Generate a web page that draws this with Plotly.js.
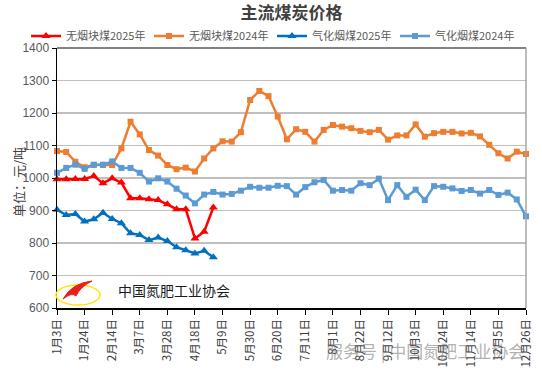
<!DOCTYPE html>
<html><head><meta charset="utf-8">
<script src="https://cdn.plot.ly/plotly-3.0.1.min.js"></script>
<style>html,body{margin:0;padding:0;background:#fff}#c{width:542px;height:372px}</style>
</head><body><div id="c"></div>
<script>
const weeks = ["1月3日","1月10日","1月17日","1月24日","1月31日","2月7日","2月14日","2月21日","2月28日","3月7日","3月14日","3月21日","3月28日","4月4日","4月11日","4月18日","4月25日","5月2日","5月9日","5月16日","5月23日","5月30日","6月6日","6月13日","6月20日","6月27日","7月4日","7月11日","7月18日","7月25日","8月1日","8月8日","8月15日","8月22日","8月29日","9月5日","9月12日","9月19日","9月26日","10月3日","10月10日","10月17日","10月24日","10月31日","11月7日","11月14日","11月21日","11月28日","12月5日","12月12日","12月19日","12月26日"];
const tickLabels = ["1月3日","1月24日","2月14日","3月7日","3月28日","4月18日","5月9日","5月30日","6月20日","7月11日","8月1日","8月22日","9月12日","10月3日","10月24日","11月14日","12月5日","12月26日"];
const anthracite2025 = [996,996,997,997,1006,984,999,986,938,938,935,932,919,904,904,814,835,909];
const anthracite2024 = [1083,1080,1050,1033,1040,1040,1040,1091,1173,1134,1086,1069,1040,1027,1032,1020,1060,1091,1113,1112,1141,1240,1268,1252,1189,1119,1150,1142,1112,1148,1163,1158,1153,1145,1141,1148,1118,1131,1131,1165,1127,1138,1142,1142,1137,1139,1128,1102,1076,1060,1081,1074];
const gasCoal2025 = [902,886,889,866,873,893,874,861,830,825,809,817,806,787,778,768,776,756];
const gasCoal2024 = [1016,1031,1041,1028,1041,1041,1051,1031,1031,1016,989,999,989,967,946,922,949,957,949,951,961,973,970,970,976,975,949,972,987,994,961,963,961,984,978,998,932,978,942,964,932,975,973,968,960,963,952,963,948,955,934,882];
const names = ["无烟块煤2025年","无烟块煤2024年","气化烟煤2025年","气化烟煤2024年"];

function tr(name, vals, color, sym, size, lw){
  const t = {type:'scatter', mode:'lines+markers', name:name, x:weeks.slice(0, vals.length), y:vals,
    line:{color:color, width:2.5}, marker:{color:color, symbol:sym, size:size}, cliponaxis:false};
  if (lw) t.legendwidth = lw;
  return t;
}
const data = [
  tr(names[0], anthracite2025, '#FF0000', 'triangle-up', 8),
  tr(names[1], anthracite2024, '#ED7D31', 'square', 6),
  tr(names[2], gasCoal2025, '#0070C0', 'triangle-up', 8),
  tr(names[3], gasCoal2024, '#5B9BD5', 'square', 6, 92)
];
const P = (px)=> (px-57)/469, Q = (py)=> (308-py)/260;
const layout = {
  width:542, height:372,
  margin:{l:57, r:16, t:48, b:64, autoexpand:false},
  paper_bgcolor:'#fff', plot_bgcolor:'#fff',
  font:{family:'"Liberation Sans","Noto Sans CJK SC",sans-serif', color:'#595959', size:12},
  title:{text:'<b>主流煤炭价格</b>', x:0.5, xref:'paper', y:1-13/372, yref:'container', yanchor:'middle',
    font:{family:'"Noto Sans CJK SC",sans-serif', size:17, color:'#404040'}},
  showlegend:true,
  legend:{orientation:'h', x:P(26), xanchor:'left', xref:'paper', y:Q(36), yref:'paper', yanchor:'middle',
    font:{family:'"Noto Sans CJK SC",sans-serif', size:11, color:'#595959'}, itemwidth:30,
    entrywidth:78, entrywidthmode:'pixels', tracegroupgap:0, bgcolor:'rgba(0,0,0,0)'},
  xaxis:{type:'category', range:[0,51], tickmode:'array', tickvals:tickLabels, ticktext:tickLabels,
    tickangle:-90, ticks:'outside', ticklen:5, tickcolor:'#000', showline:true, linecolor:'#000', linewidth:1.5,
    showgrid:false, zeroline:false, tickfont:{family:'"Noto Sans CJK SC",sans-serif', size:11.5, color:'#404040'}},
  yaxis:{range:[600,1400], dtick:100, tick0:600, ticks:'outside', ticklen:4, tickcolor:'#000',
    showline:true, linecolor:'#000', linewidth:1.5, gridcolor:'#C0C0C0', gridwidth:1.3, zeroline:false,
    tickfont:{family:'"Liberation Sans",sans-serif', size:12, color:'#595959'}},
  shapes:[
    {type:'line', xref:'paper', yref:'paper', x0:0, x1:1, y0:1, y1:1, line:{color:'#595959', width:1.5}},
    {type:'line', xref:'paper', yref:'paper', x0:1, x1:1, y0:0, y1:1, line:{color:'#A6A6A6', width:1.5}},
    {type:'circle', xref:'paper', yref:'paper', x0:P(56), x1:P(100), y0:Q(305), y1:Q(285), line:{color:'#FFE600', width:1.5}, layer:'above'},
    {type:'path', xref:'paper', yref:'paper', layer:'above', fillcolor:'#E8201A', line:{color:'#E8201A', width:1},
     path:`M ${P(63)} ${Q(299)} Q ${P(72)} ${Q(283)} ${P(92)} ${Q(281)} Q ${P(80)} ${Q(287)} ${P(76)} ${Q(296)} Q ${P(72)} ${Q(292)} ${P(63)} ${Q(299)} Z`}
  ],
  annotations:[
    {text:'单位：元/吨', xref:'paper', yref:'paper', x:P(18), y:Q(182), xanchor:'center', yanchor:'middle', textangle:-90, showarrow:false,
     font:{family:'"Noto Sans CJK SC",serif', size:13, color:'#404040'}},
    {text:'中国氮肥工业协会', xref:'paper', yref:'paper', x:P(174), y:Q(290), xanchor:'center', yanchor:'middle', showarrow:false,
     font:{family:'"Noto Sans CJK SC",sans-serif', size:14, color:'#1a1a1a'}},
    {text:'服务号 | 中国氮肥工业协会', xref:'paper', yref:'paper', x:P(425), y:Q(350), xanchor:'center', yanchor:'middle', showarrow:false,
     font:{family:'"Noto Sans CJK SC",sans-serif', size:17, color:'rgba(110,110,110,0.55)'}}
  ]
};
Plotly.newPlot('c', data, layout, {staticPlot:true, displayModeBar:false});
</script></body></html>
